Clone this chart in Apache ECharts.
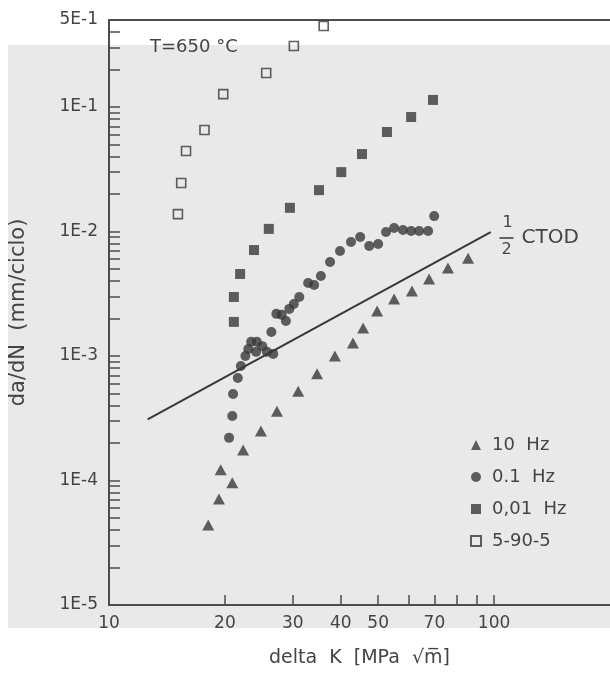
<!DOCTYPE html>
<html>
<head>
<meta charset="utf-8">
<script src="https://cdn.jsdelivr.net/npm/echarts@6/dist/echarts.min.js"></script>
<style>
  html, body { margin: 0; padding: 0; background: #ffffff; }
  #chart { width: 610px; height: 675px; }
</style>
</head>
<body>
<div id="chart"></div>
<script>
// Stress intensity range ΔK (MPa√m) and crack growth rate da/dN (mm/ciclo), T = 650 °C

// 10 Hz
const kTenHz = [18.1, 19.3, 19.5, 20.9, 22.3, 24.8, 27.3, 31.0, 34.7, 38.6, 43.0, 45.7, 49.7, 55.0, 61.2, 67.8, 75.9, 85.6];
const rateTenHz = [4.4e-5, 7.1e-5, 1.22e-4, 9.6e-5, 1.76e-4, 2.5e-4, 3.6e-4, 5.2e-4, 7.2e-4, 1.0e-3, 1.27e-3, 1.68e-3, 2.3e-3, 2.87e-3, 3.33e-3, 4.15e-3, 5.1e-3, 6.1e-3];

// 0.1 Hz
const kPointOneHz = [20.5, 20.9, 21.0, 21.6, 22.0, 22.6, 23.0, 23.4, 24.2, 25.0, 24.1, 25.7, 26.7, 26.4, 27.2, 28.1, 28.8, 29.4, 30.2, 31.2, 32.9, 34.1, 35.5, 37.5, 39.8, 42.5, 44.9, 47.4, 50.0, 52.4, 55.0, 58.0, 60.9, 63.9, 67.4, 69.9];
const ratePointOneHz = [2.2e-4, 3.3e-4, 4.95e-4, 6.66e-4, 8.3e-4, 1.0e-3, 1.14e-3, 1.3e-3, 1.3e-3, 1.2e-3, 1.08e-3, 1.08e-3, 1.04e-3, 1.56e-3, 2.18e-3, 2.14e-3, 1.91e-3, 2.39e-3, 2.62e-3, 2.98e-3, 3.86e-3, 3.72e-3, 4.39e-3, 5.69e-3, 6.97e-3, 8.23e-3, 9.03e-3, 7.65e-3, 7.94e-3, 9.91e-3, 1.067e-2, 1.028e-2, 1.01e-2, 1.01e-2, 1.01e-2, 1.33e-2];

// 0.01 Hz
const kPointZeroOneHz = [21.1, 21.1, 21.9, 23.8, 26.0, 29.5, 35.1, 40.1, 45.4, 52.7, 60.9, 69.4];
const ratePointZeroOneHz = [1.88e-3, 2.98e-3, 4.56e-3, 7.1e-3, 1.05e-2, 1.55e-2, 2.15e-2, 3.0e-2, 4.19e-2, 6.3e-2, 8.31e-2, 0.114];

// 5-90-5 hold cycle
const kHold = [15.1, 15.4, 15.85, 17.7, 19.8, 25.6, 30.2, 36.1];
const rateHold = [0.0138, 0.0245, 0.0443, 0.0653, 0.127, 0.1875, 0.309, 0.448];

// 1/2 CTOD reference line
const kCtod = [12.6, 98];
const rateCtod = [3.1e-4, 9.9e-3];

// Series names
const seriesNames = ['10  Hz', '0.1  Hz', '0,01  Hz', '5-90-5'];

// Axis ticks and labels
const xTickValues = [20, 30, 40, 50, 60, 70, 80, 90, 100];
const xLabelValues = [10, 20, 30, 40, 50, 70, 100];
const xLabelTexts = ['10', '20', '30', '40', '50', '70', '100'];
const yTickValues = [
  2e-5, 3e-5, 4e-5, 5e-5, 6e-5, 7e-5, 8e-5, 9e-5, 1e-4,
  2e-4, 3e-4, 4e-4, 5e-4, 6e-4, 7e-4, 8e-4, 9e-4, 1e-3,
  2e-3, 3e-3, 4e-3, 5e-3, 6e-3, 7e-3, 8e-3, 9e-3, 1e-2,
  2e-2, 3e-2, 4e-2, 5e-2, 6e-2, 7e-2, 8e-2, 9e-2, 1e-1,
  2e-1, 3e-1, 4e-1
];
const yLabelValues = [1e-5, 1e-4, 1e-3, 1e-2, 1e-1, 5e-1];
const yLabelTexts = ['1E-5', '1E-4', '1E-3', '1E-2', '1E-1', '5E-1'];

const ink = '#383838';
const axisInk = '#4d4d4d';
const textInk = '#444444';
const font = 'DejaVu Sans';

function pairs(xs, ys) {
  return xs.map((x, i) => [x, ys[i]]);
}
function labelFor(values, texts, v) {
  let best = 0;
  for (let i = 1; i < values.length; i++) {
    if (Math.abs(Math.log10(values[i]) - Math.log10(v)) < Math.abs(Math.log10(values[best]) - Math.log10(v))) best = i;
  }
  return texts[best];
}

const chart = echarts.init(document.getElementById('chart'), null, { renderer: 'canvas' });

chart.setOption({
  backgroundColor: '#ffffff',
  animation: false,
  graphic: [
    {
      type: 'rect', z: -10, silent: true,
      shape: { x: 8, y: 45, width: 602, height: 583 },
      style: { fill: '#e9e9e9' }
    },
    {
      type: 'text', left: 150, top: 38, z: 10,
      style: { text: 'T=650 °C', font: '18px "DejaVu Sans"', fill: textInk }
    },
    {
      type: 'group', left: 497, top: 215, z: 10,
      children: [
        { type: 'text', x: 3, y: 0, style: { text: '1', font: '16px "DejaVu Sans"', fill: textInk } },
        { type: 'line', shape: { x1: 0, y1: 23, x2: 14, y2: 23 }, style: { stroke: textInk, lineWidth: 1.6 } },
        { type: 'text', x: 2, y: 27, style: { text: '2', font: '16px "DejaVu Sans"', fill: textInk } },
        { type: 'text', x: 22, y: 13, style: { text: 'CTOD', font: '20px "DejaVu Sans"', fill: textInk } }
      ]
    }
  ],
  grid: { left: 108, top: 20, right: 0, bottom: 70, containLabel: false },
  legend: {
    orient: 'vertical',
    left: 465,
    top: 430,
    itemWidth: 10,
    itemHeight: 10,
    itemGap: 12,
    data: seriesNames,
    textStyle: { fontFamily: font, fontSize: 18, color: textInk, lineHeight: 20, padding: [0, 0, 0, 6] }
  },
  xAxis: [
    {
      type: 'log',
      logBase: 10,
      min: 10,
      max: 200,
      name: 'delta  K  [MPa  √m̅]',
      nameLocation: 'middle',
      nameGap: 44,
      nameTextStyle: { fontFamily: font, fontSize: 19, color: textInk },
      axisLine: { show: true, lineStyle: { color: axisInk, width: 2 } },
      axisTick: { show: true, inside: true, length: 10, customValues: xTickValues, lineStyle: { color: axisInk, width: 1.5 } },
      axisLabel: {
        show: true, margin: 10, customValues: xLabelValues,
        fontFamily: font, fontSize: 17, color: textInk,
        formatter: v => labelFor(xLabelValues, xLabelTexts, v)
      },
      minorTick: { show: false },
      splitLine: { show: false }
    },
    {
      type: 'log',
      logBase: 10,
      min: 10,
      max: 200,
      position: 'top',
      axisLine: { show: true, lineStyle: { color: axisInk, width: 2 } },
      axisTick: { show: false },
      axisLabel: { show: false },
      splitLine: { show: false }
    }
  ],
  yAxis: {
    type: 'log',
    logBase: 10,
    min: 1e-5,
    max: 0.5,
    name: 'da/dN  (mm/ciclo)',
    nameLocation: 'middle',
    nameGap: 80,
    nameTextStyle: { fontFamily: font, fontSize: 21, color: textInk },
    axisLine: { show: true, lineStyle: { color: axisInk, width: 2 } },
    axisTick: { show: true, inside: true, length: 11, customValues: yTickValues, lineStyle: { color: axisInk, width: 1.5 } },
    axisLabel: {
      show: true, margin: 11, customValues: yLabelValues,
      fontFamily: font, fontSize: 17, color: textInk,
      formatter: v => labelFor(yLabelValues, yLabelTexts, v)
    },
    minorTick: { show: false },
    splitLine: { show: false }
  },
  series: [
    {
      name: seriesNames[0], type: 'scatter', symbol: 'triangle', symbolSize: [12, 11],
      itemStyle: { color: ink }, data: pairs(kTenHz, rateTenHz), z: 3
    },
    {
      name: seriesNames[1], type: 'scatter', symbol: 'circle', symbolSize: 10,
      itemStyle: { color: ink }, data: pairs(kPointOneHz, ratePointOneHz), z: 3
    },
    {
      name: seriesNames[2], type: 'scatter', symbol: 'rect', symbolSize: 10,
      itemStyle: { color: ink }, data: pairs(kPointZeroOneHz, ratePointZeroOneHz), z: 3
    },
    {
      name: seriesNames[3], type: 'scatter', symbol: 'rect', symbolSize: 9,
      itemStyle: { color: 'rgba(0,0,0,0)', borderColor: ink, borderWidth: 1.6 },
      data: pairs(kHold, rateHold), z: 3
    },
    {
      name: '1/2 CTOD', type: 'line', showSymbol: false, symbol: 'none',
      lineStyle: { color: ink, width: 2 }, data: pairs(kCtod, rateCtod), z: 2,
      silent: true
    }
  ]
});
</script>
</body>
</html>
